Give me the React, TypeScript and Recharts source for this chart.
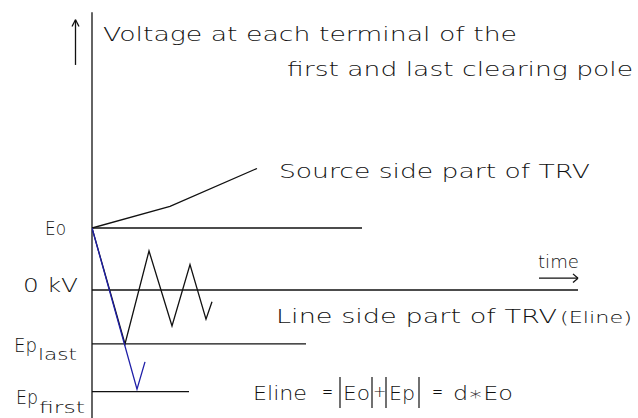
import { ComposedChart, Line, XAxis, YAxis, ReferenceLine, Customized } from 'recharts'

// time axis in arbitrary units, voltage in per-unit of Eo
const levelNames = ['Eo', '0 kV', 'Ep_last', 'Ep_first']
const levelValues = [1.0, 0, -0.87, -1.64]
const levelEnds = [27, 48.6, 21.4, 9.7]

const sourceT = [0, 7.8, 16.5]
const sourceV = [1.0, 1.35, 1.96]

// last clearing pole: swings down to Ep_last, then damped ringing
const lastPoleT = [0, 3.3, 5.7, 8.0, 9.8, 11.4, 12.0]
const lastPoleV = [1.0, -0.87, 0.63, -0.58, 0.41, -0.47, -0.19]

// first clearing pole: deeper swing towards Ep_first
const firstPoleT = [0, 4.5, 5.3]
const firstPoleV = [1.0, -1.6, -1.16]

const toPoints = (ts: number[], vs: number[]) => ts.map((t, i) => ({ t, v: vs[i] }))

const sourceSide = toPoints(sourceT, sourceV)
const lastPole = toPoints(lastPoleT, lastPoleV)
const firstPole = toPoints(firstPoleT, firstPoleV)

const FONT = "'DejaVu Sans', sans-serif"
const WEIGHT = 200
const INK = '#111'
const BLUE = '#1f1fa8'

// left-hand label placement (x of text start, shift of baseline from the level)
const tickLayout: Record<string, { x: number; dy: number; len: number; size: number; subLen?: number; subDy?: number }> = {
  'Eo': { x: 45, dy: 7, len: 21, size: 19 },
  '0 kV': { x: 23, dy: 2, len: 55, size: 19 },
  'Ep_last': { x: 14, dy: 8, len: 23, size: 19, subLen: 39, subDy: 8 },
  'Ep_first': { x: 16, dy: 12, len: 22, size: 19, subLen: 46, subDy: 9 },
}

function LevelTick(props: any) {
  const { y, payload } = props
  const idx = levelValues.indexOf(payload.value)
  const name = levelNames[idx]
  if (!name) return null
  const lay = tickLayout[name]
  const [main, sub] = name.split('_')
  return (
    <g>
      <text x={lay.x} y={y + lay.dy} fontSize={lay.size} fontFamily={FONT} fontWeight={WEIGHT} fill={INK}
        textLength={lay.len} lengthAdjust="spacingAndGlyphs">
        {main}
      </text>
      {sub && (
        <text x={lay.x + lay.len + 1} y={y + lay.dy + (lay.subDy ?? 8)} fontSize={15}
          fontFamily={FONT} fontWeight={WEIGHT} fill={INK}
          textLength={lay.subLen} lengthAdjust="spacingAndGlyphs">
          {sub}
        </text>
      )}
    </g>
  )
}

function Txt({ x, y, len, size = 19, children }: { x: number; y: number; len?: number; size?: number; children: any }) {
  return (
    <text x={x} y={y} fontSize={size} fontFamily={FONT} fontWeight={WEIGHT} fill={INK}
      textLength={len} lengthAdjust={len ? 'spacingAndGlyphs' : undefined}>
      {children}
    </text>
  )
}

// absolute-value bars of the formula
const Bar = ({ x }: { x: number }) => <line x1={x} x2={x} y1={377} y2={408} stroke={INK} strokeWidth={1.2} />

function Annotations() {
  return (
    <g>
      <Txt x={103} y={41} len={414}>Voltage at each terminal of the</Txt>
      <Txt x={287} y={76} len={346}>first and last clearing pole</Txt>
      <Txt x={279} y={178} len={311}>Source side part of TRV</Txt>
      <Txt x={538} y={268} len={41} size={17}>time</Txt>
      <Txt x={276} y={323} len={281}>Line side part of TRV</Txt>
      <Txt x={560} y={323} len={72} size={15}>(Eline)</Txt>
      <Txt x={253} y={400} len={54}>Eline</Txt>
      <Txt x={322} y={398} len={11}>=</Txt>
      <Bar x={340} />
      <Txt x={343} y={400} len={27}>Eo</Txt>
      <Bar x={372} />
      <Txt x={373} y={397} size={16}>+</Txt>
      <Bar x={386} />
      <Txt x={389} y={400} len={26}>Ep</Txt>
      <Bar x={419} />
      <Txt x={432} y={398} len={11}>=</Txt>
      <Txt x={453} y={400} len={60}>d∗Eo</Txt>
    </g>
  )
}

const refStroke = { stroke: INK, strokeWidth: 1.3 }

export default function App() {
  return (
    <div style={{ position: 'absolute', left: 0, top: 0, width: 638, height: 418, background: '#fff' }}>
      <ComposedChart width={638} height={418} margin={{ top: 42, right: 6, bottom: 4, left: 0 }}>
        <XAxis type="number" dataKey="t" domain={[0, 54]} hide allowDataOverflow />
        <YAxis
          type="number" dataKey="v" domain={[-2, 4]} width={92} allowDataOverflow
          ticks={levelValues} interval={0} axisLine={false} tickLine={false}
          tick={<LevelTick />}
        />

        {/* voltage axis and its arrow */}
        <ReferenceLine segment={[{ x: 0, y: 4.48 }, { x: 0, y: -2.1 }]} ifOverflow="visible" {...refStroke} />
        <ReferenceLine segment={[{ x: -1.65, y: 3.63 }, { x: -1.65, y: 4.36 }]} ifOverflow="visible" {...refStroke} />
        <ReferenceLine segment={[{ x: -2.0, y: 4.25 }, { x: -1.65, y: 4.36 }]} ifOverflow="visible" {...refStroke} />
        <ReferenceLine segment={[{ x: -1.3, y: 4.25 }, { x: -1.65, y: 4.36 }]} ifOverflow="visible" {...refStroke} />

        {/* time arrow */}
        <ReferenceLine segment={[{ x: 44.7, y: 0.19 }, { x: 48.6, y: 0.19 }]} ifOverflow="visible" {...refStroke} />
        <ReferenceLine segment={[{ x: 48.1, y: 0.26 }, { x: 48.6, y: 0.19 }]} ifOverflow="visible" {...refStroke} />
        <ReferenceLine segment={[{ x: 48.1, y: 0.12 }, { x: 48.6, y: 0.19 }]} ifOverflow="visible" {...refStroke} />

        {levelValues.map((v, i) => (
          <ReferenceLine key={levelNames[i]} segment={[{ x: 0, y: v }, { x: levelEnds[i], y: v }]}
            ifOverflow="visible" {...refStroke} />
        ))}

        <Line data={sourceSide} dataKey="v" type="linear" stroke={INK} strokeWidth={1.3} dot={false} isAnimationActive={false} />
        <Line data={lastPole} dataKey="v" type="linear" stroke={INK} strokeWidth={1.3} dot={false} isAnimationActive={false} />
        <Line data={firstPole} dataKey="v" type="linear" stroke={BLUE} strokeWidth={1.3} dot={false} isAnimationActive={false} />

        <Customized component={<Annotations />} />
      </ComposedChart>
    </div>
  )
}
